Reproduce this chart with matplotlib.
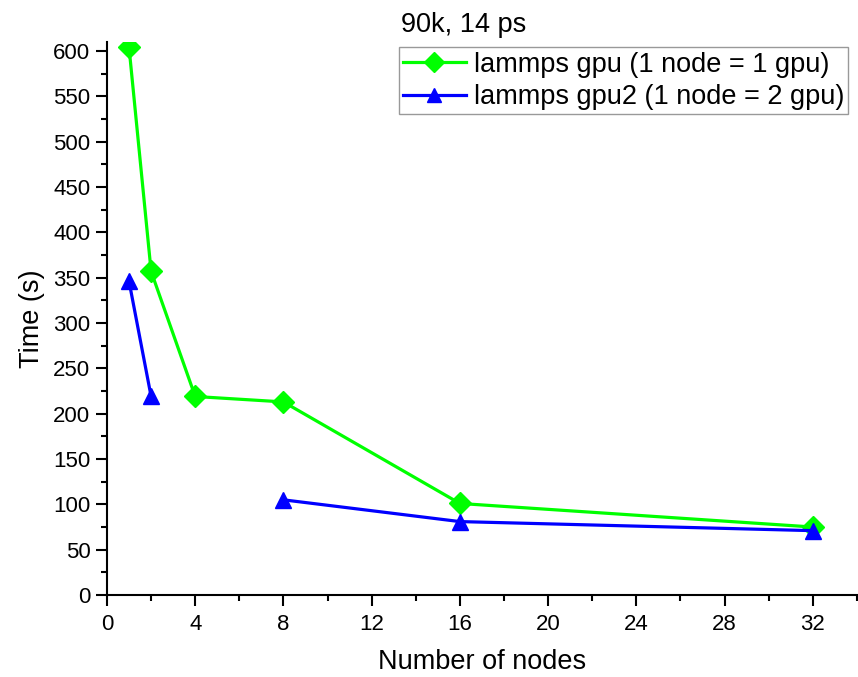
import numpy as np
import matplotlib
matplotlib.use('Agg')
import matplotlib.pyplot as plt
from matplotlib.ticker import MultipleLocator

plt.rcParams['font.family'] = ['Liberation Sans', 'DejaVu Sans']

# data
nodes = [1, 2, 4, 8, 16, 32]
gpu1 = [604, 357, 219, 213, 101, 75]
gpu2 = [346, 219, np.nan, 105, 81, 71]

fig = plt.figure(figsize=(8.58, 6.77), dpi=100)
ax = fig.add_axes([0.1247, 0.1211, 0.874, 0.8168])

ax.plot(nodes, gpu1, color='#00ff00', lw=2.3, marker='D', ms=11.5,
        label='lammps gpu (1 node = 1 gpu)')
ax.plot(nodes, gpu2, color='#0000ff', lw=2.3, marker='^', ms=11.5,
        label='lammps gpu2 (1 node = 2 gpu)')

ax.set_xlim(0, 34)
ax.set_ylim(0, 610)
ax.xaxis.set_major_locator(MultipleLocator(4))
ax.xaxis.set_minor_locator(MultipleLocator(2))
ax.yaxis.set_major_locator(MultipleLocator(50))
ax.yaxis.set_minor_locator(MultipleLocator(25))
ax.tick_params(which='major', direction='out', length=8, width=1.5, labelsize=16)
ax.tick_params(which='minor', direction='out', length=4.5, width=1.5)
ax.tick_params(axis='x', pad=6)
ax.tick_params(axis='y', pad=4)

for s in ['top', 'right']:
    ax.spines[s].set_visible(False)
for s in ['left', 'bottom']:
    ax.spines[s].set_linewidth(1.5)

ax.set_xlabel('Number of nodes', fontsize=19.5, labelpad=10)
ax.set_ylabel('Time (s)', fontsize=19.5, labelpad=6)
fig.text(0.54, 0.963, '90k, 14 ps', fontsize=19.5, ha='center', va='center')

leg = ax.legend(loc='upper right', bbox_to_anchor=(0.9955, 1.0), fontsize=19.5,
                fancybox=False, frameon=True, edgecolor='gray',
                handlelength=2.3, borderpad=0.15, labelspacing=0.25,
                handletextpad=0.3, borderaxespad=0.2, markerscale=0.85)
leg.get_frame().set_linewidth(1.0)

fig.savefig('out.png', dpi=100)
